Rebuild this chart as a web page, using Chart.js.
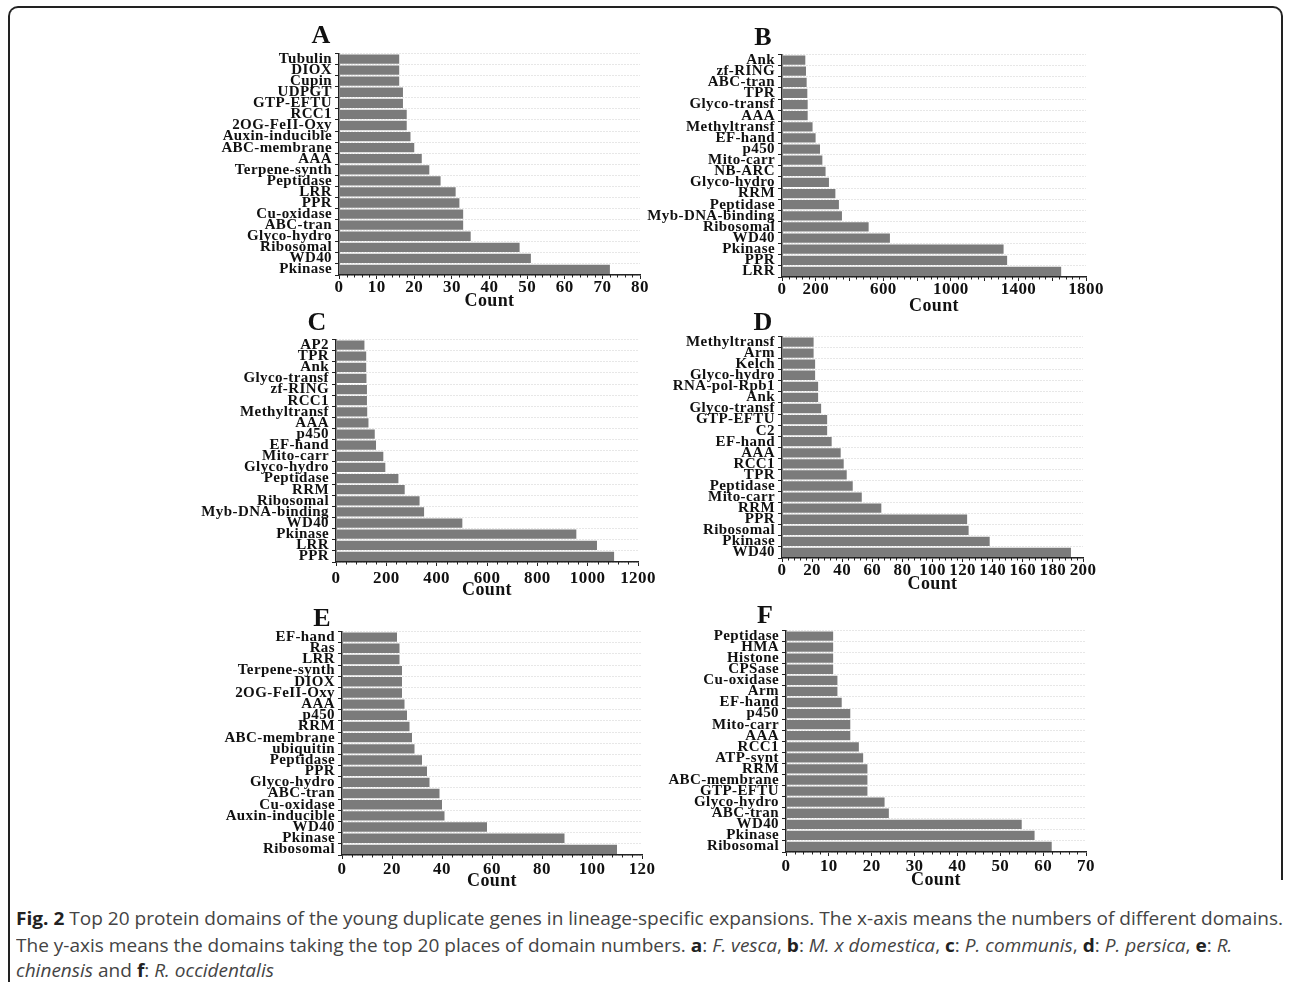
<!DOCTYPE html>
<html>
<head>
<meta charset="utf-8">
<script src="https://cdn.jsdelivr.net/npm/chart.js@4.4.1/dist/chart.umd.min.js"></script>
<style>
html,body{margin:0;padding:0;background:#fff;width:1292px;height:982px;overflow:hidden;position:relative;}
.frame{position:absolute;left:8px;top:6px;width:1275px;height:874px;border:2px solid #222;border-bottom:none;border-radius:10px 10px 0 0;box-sizing:border-box;}
.leftline{position:absolute;left:8px;top:870px;width:2px;height:120px;background:#222;}
.panel{position:absolute;}
.ptitle{position:absolute;font:bold 26px "Liberation Serif","Times New Roman",serif;color:#111;transform:translate(-50%,-50%);}
.cap{position:absolute;left:16px;white-space:nowrap;font-family:"Liberation Sans Narrow","Open Sans",sans-serif;color:#444;font-size:18px;line-height:22px;transform-origin:0 50%;}
.cap b{color:#222;}
</style>
</head>
<body>
<div class="frame"></div>
<div class="leftline"></div>
<div id="root"></div>
<div class="cap" id="cap1" style="top:907px"><b>Fig. 2</b> Top 20 protein domains of the young duplicate genes in lineage-specific expansions. The x-axis means the numbers of different domains.</div>
<div class="cap" id="cap2" style="top:934px">The y-axis means the domains taking the top 20 places of domain numbers. <b>a</b>: <i>F. vesca</i>, <b>b</b>: <i>M. x domestica</i>, <b>c</b>: <i>P. communis</i>, <b>d</b>: <i>P. persica</i>, <b>e</b>: <i>R.</i></div>
<div class="cap" id="cap3" style="top:959px"><i>chinensis</i> and <b>f</b>: <i>R. occidentalis</i></div>
<script>
// ---- Data (categories listed top to bottom) ----
const aLabels = ['Tubulin','DIOX','Cupin','UDPGT','GTP-EFTU','RCC1','2OG-FeII-Oxy','Auxin-inducible','ABC-membrane','AAA','Terpene-synth','Peptidase','LRR','PPR','Cu-oxidase','ABC-tran','Glyco-hydro','Ribosomal','WD40','Pkinase'];
const aValues = [16,16,16,17,17,18,18,19,20,22,24,27,31,32,33,33,35,48,51,72];

const bLabels = ['Ank','zf-RING','ABC-tran','TPR','Glyco-transf','AAA','Methyltransf','EF-hand','p450','Mito-carr','NB-ARC','Glyco-hydro','RRM','Peptidase','Myb-DNA-binding','Ribosomal','WD40','Pkinase','PPR','LRR'];
const bValues = [138,142,146,150,152,152,181,199,225,239,258,278,316,337,355,513,639,1312,1333,1653];
const bTickLabels = [0,200,600,1000,1400,1800];

const cLabels = ['AP2','TPR','Ank','Glyco-transf','zf-RING','RCC1','Methyltransf','AAA','p450','EF-hand','Mito-carr','Glyco-hydro','Peptidase','RRM','Ribosomal','Myb-DNA-binding','WD40','Pkinase','LRR','PPR'];
const cValues = [113,120,120,121,123,123,124,129,154,159,188,196,248,273,332,350,502,955,1037,1105];

const dLabels = ['Methyltransf','Arm','Kelch','Glyco-hydro','RNA-pol-Rpb1','Ank','Glyco-transf','GTP-EFTU','C2','EF-hand','AAA','RCC1','TPR','Peptidase','Mito-carr','RRM','PPR','Ribosomal','Pkinase','WD40'];
const dValues = [21,21,22,22,24,24,26,30,30,33,39,41,43,47,53,66,123,124,138,192];

const eLabels = ['EF-hand','Ras','LRR','Terpene-synth','DIOX','2OG-FeII-Oxy','AAA','p450','RRM','ABC-membrane','ubiquitin','Peptidase','PPR','Glyco-hydro','ABC-tran','Cu-oxidase','Auxin-inducible','WD40','Pkinase','Ribosomal'];
const eValues = [22,23,23,24,24,24,25,26,27,28,29,32,34,35,39,40,41,58,89,110];

const fLabels = ['Peptidase','HMA','Histone','CPSase','Cu-oxidase','Arm','EF-hand','p450','Mito-carr','AAA','RCC1','ATP-synt','RRM','ABC-membrane','GTP-EFTU','Glyco-hydro','ABC-tran','WD40','Pkinase','Ribosomal'];
const fValues = [11,11,11,11,12,12,13,15,15,15,17,18,19,19,19,23,24,55,58,62];

// ---- Layout ----
const YW = 200, PT = 8, PR = 20;
const panels = [
  {name:'A', labels:aLabels, values:aValues, max:80,   step:10,  L:339, R:640,  T:51,  B:275, tickPad:0, XH:35, tx:321, ty:35},
  {name:'B', labels:bLabels, values:bValues, max:1800, step:200, L:782, R:1086, T:52,  B:277, tickPad:0, XH:38, tx:763, ty:37, shown:bTickLabels},
  {name:'C', labels:cLabels, values:cValues, max:1200, step:200, L:336, R:639,  T:337, B:562, tickPad:4, XH:37, tx:317, ty:322},
  {name:'D', labels:dLabels, values:dValues, max:200,  step:20,  L:782, R:1083, T:334, B:558, tickPad:0, XH:35, tx:763, ty:322},
  {name:'E', labels:eLabels, values:eValues, max:120,  step:20,  L:342, R:642,  T:629, B:855, tickPad:2, XH:35, tx:322, ty:618},
  {name:'F', labels:fLabels, values:fValues, max:70,   step:10,  L:786, R:1086, T:628, B:852, tickPad:2, XH:37, tx:765, ty:615}
];

const minorTicks = {
  id:'minorTicks',
  afterDraw(chart, args, opts){
    const s = chart.scales.x, ctx = chart.ctx;
    const sub = opts.step / 5;
    ctx.save();
    ctx.strokeStyle = '#222'; ctx.lineWidth = 1;
    ctx.beginPath();
    for (let i = 0; i * sub <= s.max + 1e-9; i++) {
      if (i % 5 === 0) continue;
      const x = Math.round(s.getPixelForValue(i * sub)) + 0.5;
      ctx.moveTo(x, s.top); ctx.lineTo(x, s.top + 2.5);
    }
    ctx.stroke();
    ctx.restore();
  }
};
const spacing = { id:'spacing', beforeDraw(chart){ chart.ctx.letterSpacing = '0.4px'; } };

const SERIF = '"Liberation Serif","Times New Roman",serif';
const root = document.getElementById('root');
panels.forEach(p => {
  const w = (p.R - p.L) + YW + PR, h = (p.B - p.T) + PT + p.XH;
  const div = document.createElement('div');
  div.className = 'panel';
  div.style.left = (p.L - YW) + 'px'; div.style.top = (p.T - PT) + 'px';
  div.style.width = w + 'px'; div.style.height = h + 'px';
  const cv = document.createElement('canvas');
  cv.width = w; cv.height = h; cv.style.width = w + 'px'; cv.style.height = h + 'px';
  div.appendChild(cv); root.appendChild(div);
  const t = document.createElement('div');
  t.className = 'ptitle'; t.textContent = p.name;
  t.style.left = p.tx + 'px'; t.style.top = p.ty + 'px';
  root.appendChild(t);

  new Chart(cv, {
    type:'bar',
    data:{ labels:p.labels, datasets:[{ data:p.values, backgroundColor:'#7b7b7b', borderWidth:0, barPercentage:0.84, categoryPercentage:1 }] },
    options:{
      indexAxis:'y', responsive:false, maintainAspectRatio:false, animation:false,
      layout:{ padding:{ left:0, right:PR, top:PT, bottom:0 } },
      plugins:{ legend:{display:false}, tooltip:{enabled:false}, minorTicks:{ step:p.step } },
      scales:{
        x:{
          type:'linear', position:'bottom', min:0, max:p.max,
          ticks:{ stepSize:p.step, autoSkip:false, maxRotation:0, minRotation:0, padding:p.tickPad, color:'#111',
                  font:{ family:SERIF, weight:'bold', size:17, lineHeight:1 },
                  callback:(v) => (p.shown && !p.shown.includes(v)) ? '' : String(v) },
          grid:{ drawOnChartArea:false, drawTicks:true, tickLength:4, color:'#222', lineWidth:1 },
          border:{ display:true, color:'#222', width:1.5 },
          title:{ display:true, text:'Count', color:'#111', font:{ family:SERIF, weight:'bold', size:18, lineHeight:1 }, padding:{top:0,bottom:0} },
          afterFit(s){ s.height = p.XH; }
        },
        y:{
          ticks:{ autoSkip:false, padding:3, color:'#111', font:{ family:SERIF, weight:'bold', size:15, lineHeight:1 } },
          grid:{ offset:true, drawOnChartArea:true, drawTicks:true, tickLength:4, color:'#cfcfcf', tickColor:'#222', lineWidth:1 },
          border:{ display:true, color:'#222', width:1.5, dash:[1,2] },
          afterFit(s){ s.width = YW; }
        }
      }
    },
    plugins:[spacing, minorTicks]
  });
});

// fit caption width to the reference (line 1 spans to ~1283px)
const c1 = document.getElementById('cap1');
const k = 1267 / c1.getBoundingClientRect().width;
['cap1','cap2','cap3'].forEach(id => { document.getElementById(id).style.transform = 'scaleX(' + k + ')'; });
</script>
</body>
</html>
